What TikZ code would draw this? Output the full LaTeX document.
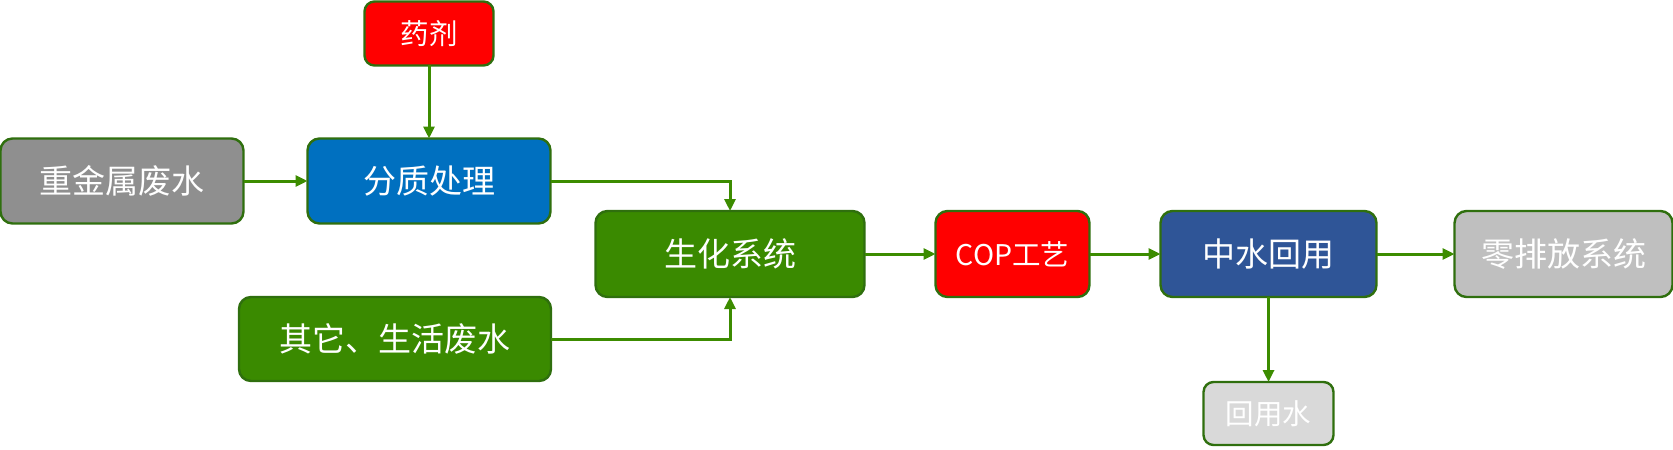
\documentclass[tikz,border=0pt]{standalone}
\usepackage{fontspec}
\setmainfont{Noto Sans CJK SC}
\usepackage{xcolor}
\usepackage{tikz}
\usetikzlibrary{arrows.meta, positioning}

\definecolor{bordergreen}{HTML}{2F6F0E}
\definecolor{linegreen}{HTML}{3C8C00}
\definecolor{heavygray}{HTML}{8F8F8F}
\definecolor{splitblue}{HTML}{0070C0}
\definecolor{biogreen}{HTML}{3A8A00}
\definecolor{reuseblue}{HTML}{2F5597}
\definecolor{zldgray}{HTML}{BFBFBF}
\definecolor{watergray}{HTML}{D9D9D9}

\begin{document}
\begin{tikzpicture}[
  x=0.5pt, y=0.5pt,
  box/.style={rectangle, draw=bordergreen, line width=1.2pt, rounded corners=6pt, text=white, font=\fontsize{16.5}{20}\selectfont, minimum width=121.5pt, minimum height=42.5pt, inner sep=0pt, outer sep=0pt, align=center},
  smallbox/.style={box, rounded corners=5pt, font=\fontsize{14.25}{17}\selectfont, minimum width=64.5pt, minimum height=32pt},
  flow/.style={draw=linegreen, line width=1.5pt, -{Triangle[length=6pt, width=5.5pt]}}
]
\useasboundingbox (0,0) rectangle (1673,-449);

% Inputs
\node[box, fill=heavygray] (heavy) at (122,-181) {重金属废水};
\node[box, fill=splitblue, right=32pt of heavy] (split) {分质处理};
\node[smallbox, fill=red, above=36.5pt of split] (agent) {药剂};
\node[box, fill=biogreen, minimum width=156pt, minimum height=42pt] (other) at (395,-339) {其它、生活废水};

% Main line
\node[box, fill=biogreen, minimum width=134.5pt, minimum height=43pt] (bio) at (730,-254) {生化系统};
\node[box, fill=red, font=\fontsize{14.25}{17}\selectfont, minimum width=77pt, minimum height=43pt, right=35.5pt of bio] (cop) {COP工艺};
\node[box, fill=reuseblue, minimum width=108pt, minimum height=43pt, right=35.5pt of cop] (reuse) {中水回用};
\node[box, fill=zldgray, minimum width=109pt, minimum height=43pt, right=39pt of reuse] (zld) {零排放系统};
\node[smallbox, fill=watergray, minimum width=65pt, minimum height=31.5pt, below=42.5pt of reuse] (water) {回用水};

\draw[flow] (agent) -- (split);
\draw[flow] (heavy) -- (split);
\draw[flow] (split.east) -| (bio.north);
\draw[flow] (other.east) -| (bio.south);
\draw[flow] (bio) -- (cop);
\draw[flow] (cop) -- (reuse);
\draw[flow] (reuse) -- (zld);
\draw[flow] (reuse) -- (water);

\end{tikzpicture}
\end{document}
